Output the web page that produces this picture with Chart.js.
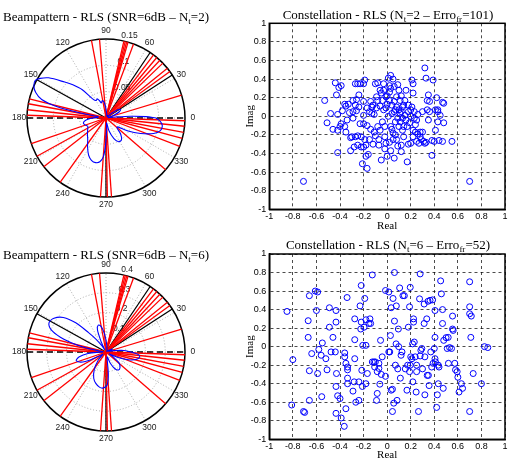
<!DOCTYPE html>
<html>
<head>
<meta charset="utf-8">
<script src="https://cdn.jsdelivr.net/npm/chart.js@4.4.0/dist/chart.umd.min.js"></script>
<style>
  body { margin: 0; background: #fff; width: 510px; height: 461px; position: relative; overflow: hidden; }
  canvas { position: absolute; }
  .ttl { position: absolute; width: 300px; text-align: center; white-space: nowrap; z-index: 5;
         font-family: "Liberation Serif", "Times New Roman", serif; font-size: 13px; line-height: 13px; color: #000; }
  .ttl sub { font-size: 9px; vertical-align: -3px; line-height: 0; }
</style>
</head>
<body>
<div class="ttl" style="left:-44px;top:10px">Beampattern - RLS (SNR=6dB – N<sub>t</sub>=2)</div>
<div class="ttl" style="left:238px;top:7.5px">Constellation - RLS (N<sub>t</sub>=2 – Erro<sub>fr</sub>=101)</div>
<div class="ttl" style="left:-44px;top:247.5px">Beampattern - RLS (SNR=6dB – N<sub>t</sub>=6)</div>
<div class="ttl" style="left:238px;top:238px">Constellation - RLS (N<sub>t</sub>=6 – Erro<sub>fr</sub>=52)</div>

<canvas id="beam1" width="212" height="212" style="left:0;top:12px"></canvas>
<canvas id="const1" width="270" height="233" style="left:240px;top:0"></canvas>
<canvas id="beam2" width="212" height="212" style="left:0;top:246px"></canvas>
<canvas id="const2" width="270" height="231" style="left:240px;top:231px"></canvas>

<script>
// ---- beampattern data (angle in degrees, linear magnitude) ----
const beamAng1 = [0, 2, 4, 6, 8, 12, 16, 20, 25, 30, 35, 40, 45, 55, 65, 75, 85, 92, 97, 102, 107, 111, 115, 119, 124,
  130, 135, 139, 145, 149, 152, 156, 160, 164, 167, 169, 171, 175, 180, 186, 192, 198, 204, 210, 220, 230, 238, 245,
  251, 257, 262, 266, 269, 273, 277, 283, 291, 298, 305, 312, 318, 323, 329, 336, 342, 347, 352, 356, 360];
const beamMag1 = [0.095, 0.076, 0.047, 0.019, 0.006, 0.004, 0.009, 0.017, 0.028, 0.032, 0.027, 0.013, 0.004, 0.006,
  0.004, 0.006, 0.011, 0.021, 0.030, 0.034, 0.030, 0.036, 0.040, 0.038, 0.042, 0.070, 0.089, 0.104, 0.133, 0.146,
  0.152, 0.150, 0.142, 0.127, 0.095, 0.047, 0.015, 0.015, 0.027, 0.038, 0.044, 0.042, 0.038, 0.040, 0.046, 0.054,
  0.066, 0.078, 0.085, 0.087, 0.084, 0.074, 0.053, 0.023, 0.009, 0.025, 0.042, 0.051, 0.051, 0.042, 0.028, 0.028,
  0.047, 0.072, 0.095, 0.106, 0.108, 0.104, 0.095];

const beamAng2 = [0, 5, 10, 15, 20, 25, 30, 40, 55, 70, 82, 90, 96, 101, 106, 111, 115, 119, 124, 128, 132, 136, 141,
  147, 153, 158, 162, 165, 168, 171, 175, 180, 185, 190, 196, 202, 207, 212, 218, 226, 236, 245, 252, 260, 266, 272,
  276, 280, 285, 291, 298, 305, 312, 320, 326, 331, 336, 341, 346, 351, 355, 360];
const beamMag2 = [0.127, 0.091, 0.040, 0.015, 0.030, 0.035, 0.020, 0.005, 0.010, 0.015, 0.030, 0.061, 0.101, 0.132,
  0.142, 0.121, 0.061, 0.015, 0.040, 0.081, 0.132, 0.213, 0.278, 0.314, 0.324, 0.299, 0.243, 0.182, 0.111, 0.040,
  0.015, 0.030, 0.091, 0.137, 0.157, 0.137, 0.086, 0.030, 0.020, 0.056, 0.106, 0.147, 0.167, 0.182, 0.182, 0.167,
  0.111, 0.030, 0.025, 0.061, 0.096, 0.111, 0.106, 0.086, 0.040, 0.020, 0.071, 0.121, 0.157, 0.172, 0.167, 0.127];

// interferer directions (red) and user directions (black), degrees
const interfAng = [69.6, 73.8, 74.8, 75.9, 76.9, 94.7, 100.6, 36, 39, 44, 47, 50, 53, 16.9,
  -2, -6, -10.5, -15, -21, -41, 266, 271, 274, 199, 209, 218, 234.5, 166, 169.6, 174, 178];
const userAng = [151, 56, 33, 270];

const rTicks1 = [0.05, 0.1, 0.15];
const rTicks2 = [0.1, 0.2, 0.3, 0.4];
const angleLabels = [0, 30, 60, 90, 120, 150, 180, 210, 240, 270, 300, 330];

// ---- constellation data ----
const constX1 = [-0.71, 0.70, -0.53, -0.51, -0.48, -0.46, -0.44, -0.43, -0.42, -0.42, -0.42, -0.41, -0.39, -0.39, -0.36,
  -0.36, -0.35, -0.34, -0.35, -0.33, -0.31, -0.31, -0.29, -0.29, -0.29, -0.27, -0.27, -0.27, -0.26, -0.25, -0.25, -0.25,
  -0.24, -0.24, -0.23, -0.22, -0.22, -0.21, -0.20, -0.20, -0.20, -0.19, -0.19, -0.18, -0.18, -0.17, -0.17, -0.17, -0.16,
  -0.15, -0.15, -0.13, -0.13, -0.11, -0.11, -0.10, -0.09, -0.09, -0.08, -0.08, -0.08, -0.07, -0.07, -0.06, -0.06, -0.05,
  -0.04, -0.04, -0.03, -0.03, -0.03, -0.02, -0.02, -0.01, -0.01, 0.00, 0.01, 0.01, 0.02, 0.03, 0.03, 0.03, 0.04, 0.05,
  0.05, 0.06, 0.06, 0.06, 0.07, 0.07, 0.08, 0.08, 0.09, 0.10, 0.10, 0.11, 0.11, 0.12, 0.12, 0.13, 0.13, 0.13, 0.14, 0.15,
  0.15, 0.16, 0.17, 0.17, 0.18, 0.19, 0.20, 0.20, 0.21, 0.21, 0.22, 0.22, 0.22, 0.22, 0.23, 0.24, 0.24, 0.25, 0.27, 0.28,
  0.28, 0.29, 0.30, 0.31, 0.32, 0.33, 0.33, 0.34, 0.34, 0.35, 0.35, 0.38, 0.38, 0.39, 0.41, 0.41, 0.42, 0.43, 0.43, 0.44,
  0.45, 0.47, 0.48, 0.47, 0.48, 0.55,
  -0.12, -0.05, 0.00, 0.02, 0.04, 0.06, 0.08, 0.09, 0.10, 0.12, 0.14, 0.16, 0.18, 0.02, 0.04, 0.07, 0.09, 0.11, -0.02,
  -0.10, -0.12, -0.14, -0.06, 0.00, 0.02, 0.12, 0.14, 0.20, 0.23, 0.25, 0.26, 0.05, -0.01, 0.03, 0.18, -0.23, -0.30,
  -0.32, -0.28, -0.20, -0.14, 0.36, 0.43, 0.36, 0.40, 0.32, -0.40, -0.38, -0.20, -0.26, 0.26, 0.30];
const constY1 = [-0.70, -0.70, 0.17, -0.07, 0.03, -0.14, 0.36, 0.23, -0.39, 0.02, -0.15, 0.31, 0.33, -0.08, 0.13,
  -0.11, 0.11, -0.04, -0.17, 0.13, -0.23, -0.37, -0.02, 0.05, 0.17, -0.22, 0.35, 0.12, 0.06, -0.31, -0.21, 0.35,
  0.23, 0.10, -0.08, -0.22, -0.33, -0.51, 0.35, 0.16, 0.01, 0.39, -0.25, -0.43, -0.31, 0.09, -0.10, -0.56, -0.41,
  0.05, -0.25, 0.03, 0.10, -0.17, 0.02, 0.35, 0.21, 0.09, -0.11, 0.36, 0.17, -0.25, -0.31, 0.28, -0.15, -0.47,
  0.17, -0.06, 0.28, 0.35, 0.07, -0.11, -0.22, 0.21, 0.09, -0.43, 0.00, 0.41, 0.17, 0.44, -0.11, 0.30, 0.03, -0.18,
  -0.25, 0.32, 0.16, -0.45, -0.06, 0.07, 0.21, -0.25, 0.34, -0.11, 0.28, 0.03, 0.17, -0.31, -0.38, -0.02, 0.10,
  -0.15, -0.22, 0.01, 0.17, 0.28, -0.49, -0.11, 0.05, -0.07, -0.29, 0.00, 0.39, 0.10, -0.15, 0.35, 0.25, -0.22,
  -0.02, -0.09, -0.17, -0.27, -0.29, -0.22, -0.17, -0.25, 0.05, -0.27, 0.52, 0.41, -0.28, 0.17, 0.07, 0.23, -0.04,
  -0.26, -0.42, 0.39, 0.07, -0.15, 0.20, 0.07, -0.06, -0.26, 0.01, 0.15, 0.14, -0.27, -0.07, -0.27,
  0.12, 0.25, 0.22, 0.26, 0.12, 0.05, 0.10, -0.02, 0.07, 0.05, 0.12, -0.04, 0.12, -0.28, -0.14, -0.20, -0.32, -0.06,
  -0.35, -0.21, -0.30, 0.16, 0.11, 0.13, 0.33, 0.22, -0.11, 0.07, 0.05, -0.04, 0.02, 0.40, -0.29, -0.37, -0.30, 0.35,
  -0.22, 0.04, -0.33, -0.33, -0.14, 0.16, 0.05, 0.05, -0.27, -0.29, -0.11, 0.06, -0.08, 0.18, -0.19, -0.17];

const constX2 = [-0.85, -0.80, -0.81, -0.71, -0.70, -0.67, -0.67, -0.66, -0.66, -0.66, -0.64, -0.61, -0.59, -0.60,
  -0.58, -0.59, -0.56, -0.555, -0.55, -0.52, -0.51, -0.49, -0.49, -0.476, -0.46, -0.44, -0.434, -0.434, -0.43,
  -0.434, -0.434, -0.42, -0.40, -0.39, -0.364, -0.36, -0.36, -0.35, -0.35, -0.34, -0.336, -0.336, -0.336, -0.336,
  -0.29, -0.28, -0.275, -0.275, -0.275, -0.266, -0.24, -0.24, -0.23, -0.224, -0.22, -0.22, -0.215, -0.21, -0.207,
  -0.196, -0.19, -0.18, -0.18, -0.18, -0.168, -0.154, -0.146, -0.14, -0.126, -0.126, -0.112, -0.106, -0.10, -0.09,
  -0.084, -0.084, -0.07, -0.07, -0.062, -0.056, -0.05, -0.042, -0.014, -0.014, 0.014, 0.014, 0.022, 0.028, 0.034,
  0.034, 0.045, 0.045, 0.05, 0.056, 0.062, 0.062, 0.07, 0.076, 0.078, 0.084, 0.09, 0.095, 0.098, 0.106, 0.112,
  0.118, 0.126, 0.134, 0.146, 0.154, 0.168, 0.174, 0.18, 0.19, 0.19, 0.196, 0.196, 0.20, 0.21, 0.216, 0.218, 0.224,
  0.224, 0.23, 0.238, 0.246, 0.25, 0.25, 0.266, 0.275, 0.28, 0.28, 0.286, 0.294, 0.30, 0.314, 0.314, 0.32, 0.32,
  0.336, 0.34, 0.347, 0.35, 0.356, 0.364, 0.37, 0.378, 0.386, 0.39, 0.40, 0.406, 0.406, 0.406, 0.41, 0.42, 0.426,
  0.434, 0.434, 0.44, 0.454, 0.46, 0.47, 0.47, 0.476, 0.48, 0.50, 0.51, 0.518, 0.52, 0.53, 0.546, 0.555, 0.555,
  0.56, 0.574, 0.58, 0.594, 0.60, 0.61, 0.63, 0.64, 0.70, 0.70, 0.70, 0.71, 0.714, 0.70, 0.73, 0.80, 0.826, 0.854];
const constY2 = [0.38, -0.14, -0.63, -0.70, -0.71, 0.28, 0.10, -0.26, -0.58, 0.55, -0.075, 0.60, 0.59, 0.39, -0.03,
  -0.29, -0.093, -0.54, 0.04, -0.13, -0.25, 0.42, 0.21, -0.057, 0.10, -0.057, 0.39, 0.265, -0.29, -0.43, -0.72,
  -0.53, -0.56, -0.77, -0.86, -0.068, -0.11, -0.18, -0.67, 0.53, -0.22, -0.25, -0.34, -0.40, -0.48, -0.38, 0.30,
  0.075, -0.13, -0.60, -0.58, -0.38, 0.44, 0.19, 0.66, 0.265, -0.255, -0.43, 0.014, 0.21, 0.52, 0.014, 0.29, -0.40,
  -0.29, 0.25, 0.30, 0.25, 0.774, -0.165, -0.165, -0.22, -0.165, -0.58, -0.27, -0.505, -0.18, -0.235, -0.405, 0.068,
  -0.30, -0.11, 0.606, -0.32, 0.59, -0.057, -0.057, 0.12, 0.42, -0.47, -0.46, -0.70, 0.52, -0.61, 0.80, 0.276,
  -0.20, 0.03, 0.44, -0.58, -0.24, 0.19, 0.00, 0.634, -0.34, -0.093, -0.057, 0.55, 0.55, -0.24, -0.47, -0.20, 0.21,
  0.43, -0.27, 0.64, -0.20, -0.11, -0.13, 0.03, -0.38, 0.30, 0.265, 0.05, -0.11, -0.49, -0.20, -0.27, -0.70, 0.516,
  0.785, -0.10, -0.04, -0.02, -0.24, 0.46, 0.25, -0.11, -0.52, 0.30, -0.31, 0.49, -0.31, -0.42, 0.50, -0.057, -0.22,
  0.505, -0.18, -0.02, -0.13, 0.39, 0.10, -0.165, -0.656, -0.52, -0.20, -0.40, -0.22, 0.71, 0.57, 0.40, 0.25, -0.45,
  0.068, 0.097, -0.02, 0.10, -0.18, -0.01, -0.02, 0.19, 0.33, 0.175, -0.18, -0.25, -0.27, -0.33, -0.49, -0.40,
  -0.45, 0.355, 0.70, -0.70, 0.10, 0.33, 0.43, -0.29, -0.40, 0.00, -0.01];

const axisTicks = [-1, -0.8, -0.6, -0.4, -0.2, 0, 0.2, 0.4, 0.6, 0.8, 1];

// ---- helpers ----
const sansFont = '"Liberation Sans", Arial, Helvetica, sans-serif';
const serifFont = '"Liberation Serif", "Times New Roman", serif';
const toXY = (a, r) => ({ x: r * Math.cos(a * Math.PI / 180), y: r * Math.sin(a * Math.PI / 180) });

// polar grid, drawn from the chart's own x/y scales
const polarGrid = {
  id: 'polarGrid',
  beforeDatasetsDraw(chart, args, opts) {
    const { ctx, scales: { x, y } } = chart;
    const cx = x.getPixelForValue(0), cy = y.getPixelForValue(0);
    const px = r => x.getPixelForValue(r) - cx;
    const R = px(opts.rmax);
    ctx.save();
    ctx.strokeStyle = '#9a9a9a';
    ctx.lineWidth = 0.8;
    ctx.setLineDash([1, 2]);
    opts.rTicks.slice(0, -1).forEach(r => {
      ctx.beginPath(); ctx.arc(cx, cy, px(r), 0, 2 * Math.PI); ctx.stroke();
    });
    angleLabels.filter(a => a < 180).forEach(a => {
      const t = a * Math.PI / 180;
      ctx.beginPath();
      ctx.moveTo(cx - R * Math.cos(t), cy + R * Math.sin(t));
      ctx.lineTo(cx + R * Math.cos(t), cy - R * Math.sin(t));
      ctx.stroke();
    });
    ctx.setLineDash([]);
    ctx.strokeStyle = '#000';
    ctx.lineWidth = 1.5;
    ctx.beginPath(); ctx.arc(cx, cy, R, 0, 2 * Math.PI); ctx.stroke();

    ctx.fillStyle = '#222';
    ctx.font = '8.5px ' + sansFont;
    ctx.textAlign = 'center';
    ctx.textBaseline = 'middle';
    angleLabels.forEach(a => {
      const t = a * Math.PI / 180;
      ctx.fillText(String(a), cx + 1.1 * R * Math.cos(t), cy - 1.1 * R * Math.sin(t));
    });
    ctx.textAlign = 'left';
    const rinc = opts.rTicks[1] - opts.rTicks[0];
    const t82 = 82 * Math.PI / 180;
    opts.rTicks.forEach(r => {
      const d = px(r + rinc / 20);
      ctx.fillText(String(r), cx + d * Math.cos(t82) + 4, cy - d * Math.sin(t82) - 3);
    });
    ctx.restore();
  }
};

function ray(a, rmax, color) {
  return { data: [{ x: 0, y: 0 }, toXY(a, rmax)], showLine: true, borderColor: color, borderWidth: 1.3, pointRadius: 0 };
}

function beamChart(id, ang, mag, rTicks) {
  const rmax = rTicks[rTicks.length - 1];
  const half = rmax * 106 / 79;
  const datasets = [{
    data: ang.map((a, i) => toXY(a, mag[i])),
    showLine: true, borderColor: '#0000ff', borderWidth: 1.1, pointRadius: 0, tension: 0.3
  }];
  interfAng.forEach(a => datasets.push(ray(a, rmax, '#ff0000')));
  userAng.forEach(a => datasets.push(ray(a, rmax, '#000000')));
  datasets.push({ data: [toXY(180, rmax), toXY(0, rmax)], showLine: true, borderColor: '#000',
    borderWidth: 1.4, borderDash: [6, 4], pointRadius: 0 });

  new Chart(document.getElementById(id), {
    type: 'scatter',
    data: { datasets },
    options: {
      responsive: false, animation: false, events: [],
      layout: { padding: 0 },
      plugins: { legend: { display: false }, tooltip: { enabled: false }, polarGrid: { rTicks, rmax } },
      scales: {
        x: { display: false, min: -half, max: half },
        y: { display: false, min: -half, max: half }
      }
    },
    plugins: [polarGrid]
  });
}

// solid box round the plot area
const frameBox = {
  id: 'frameBox',
  beforeDatasetsDraw(chart) {
    const { ctx, chartArea: a } = chart;
    ctx.save();
    ctx.strokeStyle = '#000';
    ctx.lineWidth = 1.5;
    ctx.strokeRect(a.left, a.top, a.right - a.left, a.bottom - a.top);
    ctx.restore();
  }
};

function constChart(id, xs, ys, padTop, xHeight) {
  const tickFont = { family: sansFont, size: 9 };
  const titleFont = { family: serifFont, size: 11 };
  const common = {
    min: -1, max: 1,
    afterBuildTicks: s => { s.ticks = axisTicks.map(v => ({ value: v })); },
    grid: { color: '#000', lineWidth: 0.7, drawTicks: false },
    border: { color: '#000', width: 1.5, dash: [3, 3] },
    ticks: { font: tickFont, color: '#000', autoSkip: false, maxRotation: 0, callback: v => String(v) }
  };
  new Chart(document.getElementById(id), {
    type: 'scatter',
    data: {
      datasets: [{
        data: xs.map((x, i) => ({ x, y: ys[i] })),
        pointStyle: 'circle', pointRadius: 3, borderWidth: 1,
        borderColor: '#0000ff', backgroundColor: 'rgba(0,0,0,0)'
      }]
    },
    options: {
      responsive: false, animation: false, events: [],
      layout: { padding: { top: padTop, right: 3.3, left: 0, bottom: 0 } },
      plugins: { legend: { display: false }, tooltip: { enabled: false } },
      scales: {
        x: Object.assign({}, common, {
          afterFit: s => { s.height = xHeight; },
          ticks: Object.assign({}, common.ticks, { padding: 2 }),
          title: { display: true, text: 'Real', font: titleFont, color: '#000', padding: 0 }
        }),
        y: Object.assign({}, common, {
          afterFit: s => { s.width = 29.3; },
          ticks: Object.assign({}, common.ticks, { padding: 3 }),
          title: { display: true, text: 'Imag', font: titleFont, color: '#000', padding: { top: 4 } }
        })
      }
    },
    plugins: [frameBox]
  });
}

beamChart('beam1', beamAng1, beamMag1, rTicks1);
beamChart('beam2', beamAng2, beamMag2, rTicks2);
constChart('const1', constX1, constY1, 23.3, 23.7);
constChart('const2', constX2, constY2, 23, 22.7);
</script>
</body>
</html>
